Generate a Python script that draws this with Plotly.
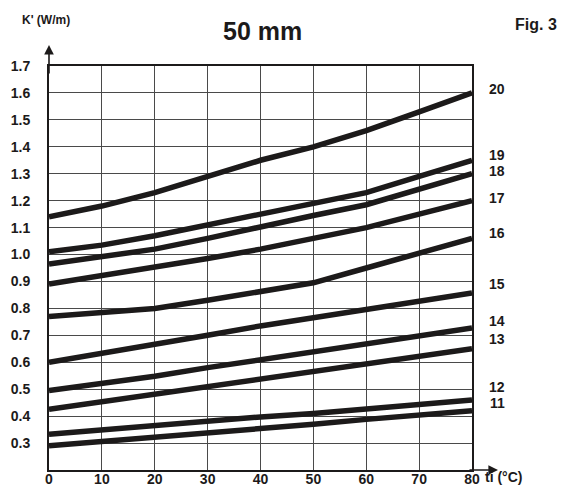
import plotly.graph_objects as go

# Temperature ti (°C)
ti = [0, 10, 20, 30, 40, 50, 60, 70, 80]

# K' (W/m) for each curve
curve_names = ["20", "19", "18", "17", "16", "15", "14", "13", "12", "11"]
c20 = [1.14, 1.18, 1.23, 1.29, 1.35, 1.40, 1.46, 1.53, 1.60]
c19 = [1.01, 1.035, 1.07, 1.11, 1.15, 1.19, 1.23, 1.29, 1.35]
c18 = [0.965, 0.99, 1.02, 1.06, 1.105, 1.145, 1.185, 1.245, 1.30]
c17 = [0.89, 0.92, 0.95, 0.985, 1.02, 1.06, 1.10, 1.15, 1.20]
c16 = [0.77, 0.785, 0.80, 0.83, 0.865, 0.895, 0.95, 1.005, 1.06]
c15 = [0.60, 0.632, 0.665, 0.70, 0.735, 0.766, 0.797, 0.828, 0.857]
c14 = [0.495, 0.52, 0.548, 0.58, 0.61, 0.64, 0.67, 0.70, 0.727]
c13 = [0.425, 0.453, 0.481, 0.51, 0.54, 0.567, 0.593, 0.62, 0.65]
c12 = [0.333, 0.35, 0.367, 0.382, 0.397, 0.41, 0.425, 0.443, 0.46]
c11 = [0.29, 0.305, 0.32, 0.337, 0.355, 0.37, 0.388, 0.404, 0.42]
curves = [c20, c19, c18, c17, c16, c15, c14, c13, c12, c11]

# Right-hand curve labels (value level of each label)
label_y = [1.615, 1.37, 1.31, 1.21, 1.08, 0.89, 0.755, 0.685, 0.51, 0.45]

x_ticks = [0, 10, 20, 30, 40, 50, 60, 70, 80]
y_ticks = [0.3, 0.4, 0.5, 0.6, 0.7, 0.8, 0.9, 1.0, 1.1, 1.2, 1.3, 1.4, 1.5, 1.6, 1.7]
y_tick_text = ["0.3", "0.4", "0.5", "0.6", "0.7", "0.8", "0.9", "1.0", "1.1",
               "1.2", "1.3", "1.4", "1.5", "1.6", "1.7"]

title_text = "50 mm"
fig_text = "Fig. 3"
y_title = "K' (W/m)"
x_title = "ti (°C)"

FONT = "Liberation Sans, Arial, sans-serif"
INK = "#1c1a1a"

ML, MR, MT, MB = 49, 91, 66, 16
WIDTH, HEIGHT = 563, 486
W = WIDTH - ML - MR
H = HEIGHT - MT - MB


def px(xp):
    return (xp - ML) / W


def py(yp):
    return (HEIGHT - MB - yp) / H


fig = go.Figure()
for name, vals in zip(curve_names, curves):
    fig.add_trace(go.Scatter(x=ti, y=vals, mode="lines", name=name,
                             line=dict(color=INK, width=5.5),
                             hoverinfo="skip", showlegend=False))

annotations = []
for name, ly in zip(curve_names, label_y):
    annotations.append(dict(x=px(497), xref="paper", y=ly, yref="y", text=name,
                            showarrow=False, xanchor="center", yanchor="middle",
                            font=dict(family=FONT, size=14, color=INK, weight=700)))

# axis arrows
annotations.append(dict(x=0, y=py(45), xref="x", yref="paper", text="", showarrow=True,
                        ax=0, ay=30, axref="pixel", ayref="pixel",
                        arrowhead=2, arrowsize=1.2, arrowwidth=1.6, arrowcolor=INK))
annotations.append(dict(x=px(498), y=0.2, xref="paper", yref="y", text="", showarrow=True,
                        ax=-30, ay=0, axref="pixel", ayref="pixel",
                        arrowhead=2, arrowsize=1.2, arrowwidth=1.6, arrowcolor=INK))

annotations += [
    dict(x=px(262), y=py(31), xref="paper", yref="paper", text=title_text,
         showarrow=False, xanchor="center", yanchor="middle",
         font=dict(family=FONT, size=25, color=INK, weight=700)),
    dict(x=px(536), y=py(25), xref="paper", yref="paper", text=fig_text,
         showarrow=False, xanchor="center", yanchor="middle",
         font=dict(family=FONT, size=16, color=INK, weight=700)),
    dict(x=px(46), y=py(20), xref="paper", yref="paper", text=y_title,
         showarrow=False, xanchor="center", yanchor="middle",
         font=dict(family=FONT, size=12, color=INK, weight=700)),
    dict(x=px(503), y=py(477), xref="paper", yref="paper", text=x_title,
         showarrow=False, xanchor="center", yanchor="middle",
         font=dict(family=FONT, size=14, color=INK, weight=700)),
]

fig.update_layout(
    width=WIDTH, height=HEIGHT,
    margin=dict(l=ML, r=MR, t=MT, b=MB, autoexpand=False),
    paper_bgcolor="white", plot_bgcolor="white",
    showlegend=False,
    xaxis=dict(range=[0, 80], tickvals=x_ticks, ticks="", ticklen=0, showgrid=True,
               gridcolor="#4a4a4a", gridwidth=1, zeroline=False, automargin=False,
               showline=True, linecolor=INK, linewidth=2, mirror=True,
               tickfont=dict(family=FONT, size=14, color=INK, weight=700),
               ticklabelstandoff=-5, fixedrange=True),
    yaxis=dict(range=[0.2, 1.7], tickvals=y_ticks, ticktext=y_tick_text, ticks="",
               showgrid=True, gridcolor="#4a4a4a", gridwidth=1, zeroline=False,
               automargin=False,
               showline=True, linecolor=INK, linewidth=2, mirror=True,
               tickfont=dict(family=FONT, size=14, color=INK, weight=700),
               ticklabelstandoff=14, fixedrange=True),
    annotations=annotations,
)

fig.write_html("out.html",
               config={"displayModeBar": False, "staticPlot": True},
               post_script="document.body.style.margin='0';document.body.style.overflow='hidden';")
